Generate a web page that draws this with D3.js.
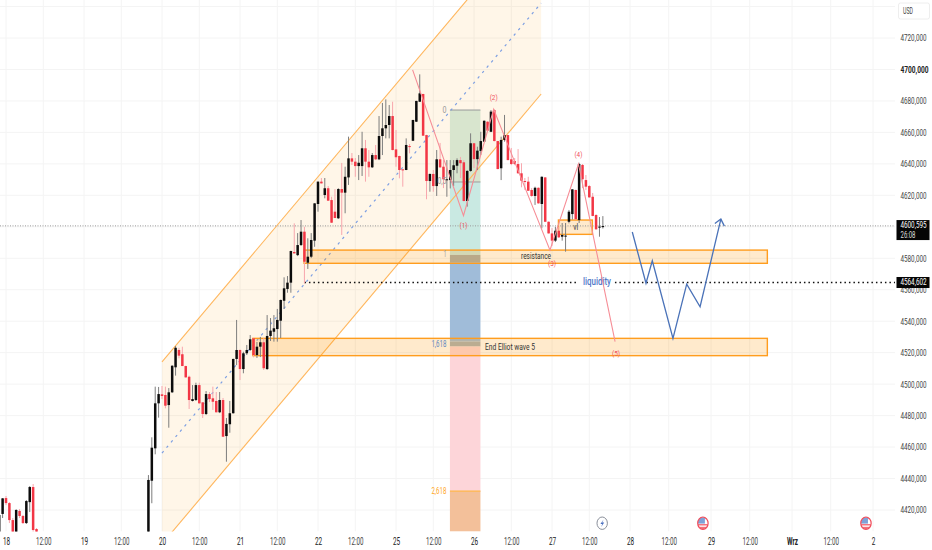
<!DOCTYPE html>
<html><head><meta charset="utf-8">
<script src="https://cdn.jsdelivr.net/npm/d3@7"></script>
<style>
html,body{margin:0;padding:0;background:#fff;overflow:hidden}
svg{display:block;font-family:Roboto,sans-serif}
</style></head><body><svg id="c" width="932" height="550"></svg>
<script>
// ---- data -------------------------------------------------------------
const opens=[4404.1,4417.5,4427.6,4424.4,4413.6,4405.8,4419.4,4416.2,4411.7,4425,4434.6,4407.9,
4404.1,4438.6,4459.2,4487.8,4493.5,4493.1,4486.7,4494.8,4510.7,4521.7,
4519,4511.5,4504.7,4489.3,4489.9,4499.4,4488.4,4481,4493.7,4491,
4489.3,4482.1,4489.9,4467,4474.5,4481.5,4516,4521.7,4509.6,4519.6,
4521.7,4529.1,4518.5,4523.8,4526.6,4509.6,4530.6,4533.3,4535,4540.3,
4553,4560.5,4564.5,4584,4582,4588.4,4596.9,4577.2,4581,4591.2,
4614.5,4628.7,4620.2,4624.5,4617,4609.6,4605.4,4624,4621.7,4631.4,
4643.5,4641.4,4638.6,4638.6,4649.9,4641.4,4637.8,4645.6,4642.9,4657.7,
4662.6,4664.7,4670.4,4649.2,4645,4636.5,4636.1,4651.3,4654.7,4666.8,
4679.5,4684.4,4658.3,4629.1,4633.6,4625.9,4642.9,4638.2,4629.7,4629.7,
4636.1,4638.8,4642.4,4641,4616.4,4635.5,4653.1,4643,4648.2,4654.1,
4666.8,4660.4,4674.2,4654.5,4637.2,4655.2,4658.3,4642.9,4641.8,4639.9,
4634,4629.1,4628.7,4623.4,4619.6,4624.8,4614.5,4631.4,4603.2,4595.8,
4591.2,4597.5,4593.7,4593.8,4603.2,4608.1,4623.4,4604.3,4639.3,4629.7,
4625.9,4619.1,4607.5,4599.5,4599.8];
const closes=[4416.8,4427.4,4424.4,4413.6,4405.8,4420,4416.2,4411.7,4425.7,4434.6,4407.3,4405.4,
4439.1,4459.6,4487.8,4493.7,4492.5,4486.3,4494.8,4511.7,4523.1,4518.1,
4511.5,4504.3,4489.9,4490.5,4499.4,4487.8,4481,4493.7,4490.5,4488.8,
4482.1,4489.9,4466.6,4474.7,4481.5,4516,4521.7,4509.6,4519.6,4521.7,
4528.5,4518.5,4523.8,4526.6,4510.1,4530.6,4534,4535.5,4540.8,4553.5,
4560.9,4564.5,4584.6,4583.1,4588.4,4596.9,4577.8,4581,4591.6,4614.9,
4628.7,4627.6,4624.5,4616.6,4602.6,4605.6,4624,4621.7,4631.8,4643.5,
4641.4,4638.6,4640.7,4649.9,4641.4,4637.8,4645.6,4642.9,4657.7,4662.6,
4664.7,4670.4,4648.8,4644.2,4636.1,4636.1,4652,4650.7,4667.9,4680,
4684.8,4657.9,4629.1,4633.6,4625.9,4642.9,4637.8,4630.2,4630.2,4636.1,
4639.1,4642.4,4640.4,4616.4,4635.5,4653.1,4643,4648.4,4654.5,4667.4,
4661.1,4673.2,4654.5,4636.7,4655.2,4658.3,4642.4,4639.9,4639.9,4634,
4629.3,4628.7,4622.9,4619.6,4624.8,4614.9,4631.8,4603.2,4595.8,4591.2,
4597.5,4593.3,4594.8,4594.4,4609.6,4623.8,4604.8,4639.9,4630.2,4625.5,
4618.7,4606.9,4598.4,4600.1,4600.5];
const highs=[4418.7,4427.6,4428.9,4425,4414.9,4420.5,4420.6,4416.8,4426.3,4435.2,4436.5,4408.5,
4442.2,4466.2,4498.4,4498.2,4498.8,4498.4,4497.5,4512,4524.2,4523.1,
4523.8,4511.7,4505.4,4499.4,4500.9,4500.9,4488.6,4495.6,4495,4498.4,
4495,4495,4491.2,4478.5,4489.3,4516.2,4540.8,4522,4520.6,4524.9,
4531.2,4529.3,4526.8,4530,4529.3,4543.9,4542,4543.9,4547.8,4553.7,
4567.9,4568.7,4584.8,4602.2,4596,4604.3,4600,4592.7,4596,4615,
4628.8,4631,4631,4625.9,4619.1,4624,4624.5,4640.6,4638.2,4657.3,
4646.9,4643.7,4645.6,4660.4,4655.2,4648.8,4646.9,4652,4670.4,4678.7,
4681,4677.4,4679.5,4661.5,4645.2,4636.7,4656.2,4652.6,4668,4680.1,
4696.9,4684.6,4658.5,4633.8,4636.1,4648.8,4653.3,4642.4,4642.4,4642.4,
4642.4,4643.5,4644.4,4642.4,4636,4659.4,4653.3,4650.9,4660.4,4667.6,
4667,4674.2,4674.7,4654.6,4657.3,4671.1,4658.5,4650.1,4643.7,4649.4,
4640.4,4631,4631.8,4624.6,4625.5,4625,4632,4631.6,4603.4,4599.2,
4600,4599.9,4602.4,4602.4,4610.7,4624,4623.6,4640.7,4639.9,4632.9,
4626.5,4621.5,4608,4606.2,4606.8];
const lows=[4400.9,4414.9,4423.1,4411.7,4404,4404,4414.9,4411.1,4411.1,4418.7,4405.4,4404.7,
4400.9,4424.3,4455.4,4478.7,4490.5,4484.6,4472.3,4494.4,4505.4,4516.4,
4511.5,4504.1,4484.2,4489,4489.3,4487.6,4478.5,4480.4,4488.6,4483.6,
4482,4481.6,4466.4,4450.7,4469.1,4481.3,4512.1,4502.6,4506.9,4518.5,
4521,4517,4516.6,4517.2,4509,4509,4527.4,4527,4527,4529.3,
4547.8,4558.1,4558.1,4583,4581.4,4587.8,4564,4573.2,4580.1,4587.3,
4609.6,4627.5,4618.1,4616.5,4602.5,4605.5,4605,4594.8,4608.6,4626.6,
4639.3,4631.8,4629.7,4632.3,4628.7,4631.8,4637.4,4642.4,4642.4,4645.6,
4656.2,4656.2,4648.6,4638.2,4630.8,4625.5,4636,4646.7,4654.5,4666.6,
4679.3,4657.8,4617.5,4622.3,4622.3,4619.6,4637.4,4624.6,4619.1,4624.4,
4625.9,4634,4631,4616,4612.8,4635,4637.4,4636.1,4645.6,4654,
4661,4660.2,4654.3,4636.6,4629.7,4654.1,4642.3,4639.2,4639.2,4633.9,
4625.1,4623.4,4622.8,4619.1,4613.9,4614.7,4599,4603,4595.7,4587.8,
4590.3,4592.9,4591.2,4584.2,4602.2,4604.6,4604.6,4602.4,4624.6,4623.4,
4618.5,4606.7,4598.2,4593.7,4598.9];
const leftCount=12, leftFirstBar=-2, mainFirstBar=42;

const priceTicks=d3.range(4420,4741,20);
const priceLabelTicks=[4420,4440,4460,4480,4500,4520,4540,4560,4580,4620,4640,4660,4680,4700,4720];
const timeTickBars=[0,11,23,34,46,57,69,80,92,103,115,126,138,149,161,172,184,195,207,218,230,241,253];
const timeTickLabels=["18","12:00","19","12:00","20","12:00","21","12:00","22","12:00","25","12:00","26","12:00","27","12:00","28","12:00","29","12:00","Wrz","12:00","2"];

const lastPrice=4600.595, countdown="26:08", liquidityPrice=4564.602, liquidityStartBar=88;
// channel: [bar, upper, middle, lower]
const channelBars=[46,157.8], channelUpper=[4514.1,4800.1], channelMiddle=[4456.2,4742.2], channelLower=[4398.4,4684.4];
// fib tool
const fibBars=[130.9,139.9];
const fibBandTop=[4674.2,4628.5,4582.1,4577.6,4527,4523.9,4432];
const fibBandBottom=[4628.5,4582.1,4577.6,4527,4523.9,4432,4406.3];
const fibBandColors=["#d8e5ce","#c9e9e2","#a9aeaa","#a0bcd9","#aab2b6","#fdd5d9","#f3c09a"];
const fibLabels=["0","0,5","1","1,618","2,618"];
const fibLabelPrices=[4674.2,4628.5,4582.1,4524.9,4432];
const fibLabelColors=["#999","#999","#999","#5d88c0","#ffa726"];
// zones: left bar, right bar, top price, bottom price
const zoneLeft=[87.9,72.8,162.9], zoneRight=[223,223,172.9], zoneTop=[4585.2,4529.1,4604.3], zoneBottom=[4576.8,4518.1,4595.2];
// wave drawn in pink and projected path in blue
const waveBars=[119.9,134.9,143.8,160.4,168.8,179.6], wavePrices=[4699.7,4607.1,4674.7,4585.2,4639.9,4527];
const waveLabels=["(1)","(2)","(3)","(4)","(5)"];
const waveLabelBars=[134.9,143.8,161,168.8,179.9], waveLabelPrices=[4600.5,4682,4576.5,4645.5,4519];
const pathBars=[184.65,188.54,190.33,196.2,200.1,203.9,209.8], pathPrices=[4596.7,4564.1,4578.4,4529.1,4563.6,4549.2,4604.9];
const eventBars=[175.8,204.7,251], eventKinds=["bolt","flag","flag"];

// ---- scales ------------------------------------------------------------
const x=d3.scaleLinear().domain([0,184,253]).range([6,630,873]);
const y=d3.scaleLinear().domain([4420,4720]).range([510,38]);
const paneRight=895, paneBottom=531.5;
const narrow="'Liberation Sans Narrow',Roboto,sans-serif";
const svg=d3.select("#c");
const defs=svg.append("defs");
defs.append("clipPath").attr("id","pane").append("rect").attr("x",0).attr("y",0).attr("width",paneRight).attr("height",paneBottom);
svg.append("rect").attr("width",932).attr("height",550).attr("fill","#fff");
const pane=svg.append("g").attr("clip-path","url(#pane)");
const squeeze=(t,w)=>t.attr("textLength",w).attr("lengthAdjust","spacingAndGlyphs");

// grid
pane.append("g").selectAll("line").data(timeTickBars).join("line")
 .attr("x1",d=>x(d)).attr("x2",d=>x(d)).attr("y1",0).attr("y2",paneBottom).attr("stroke","#f4f4f4");
pane.append("g").selectAll("line").data(priceTicks).join("line")
 .attr("x1",0).attr("x2",paneRight).attr("y1",d=>y(d)).attr("y2",d=>y(d)).attr("stroke","#f4f4f4");

// channel fill
const ch=[[channelBars[0],channelUpper[0]],[channelBars[1],channelUpper[1]],[channelBars[1],channelLower[1]],[channelBars[0],channelLower[0]]];
pane.append("path").attr("d",d3.line(d=>x(d[0]),d=>y(d[1]))(ch)+"Z").attr("fill","rgba(255,152,0,0.09)");

// fib
pane.append("g").selectAll("rect").data(fibBandTop).join("rect")
 .attr("x",x(fibBars[0])).attr("width",x(fibBars[1])-x(fibBars[0]))
 .attr("y",d=>y(d)).attr("height",(d,i)=>y(fibBandBottom[i])-y(d)).attr("fill",(d,i)=>fibBandColors[i]);
pane.append("g").selectAll("line").data(fibLabelPrices.slice(0,2)).join("line")
 .attr("x1",x(fibBars[0])).attr("x2",x(fibBars[1])).attr("y1",d=>y(d)).attr("y2",d=>y(d)).attr("stroke","#a9aca8").attr("stroke-width",1.3);
pane.append("line").attr("x1",x(fibBars[0])).attr("x2",x(fibBars[1])).attr("y1",y(4432)).attr("y2",y(4432)).attr("stroke","#ffb74d").attr("stroke-width",1.3);

// channel lines
const lineGen=d3.line(d=>x(d[0]),d=>y(d[1]));
pane.append("path").attr("d",lineGen([[channelBars[0],channelUpper[0]],[channelBars[1],channelUpper[1]]])).attr("stroke","#ffb65c").attr("fill","none").attr("stroke-width",1.1);
pane.append("path").attr("d",lineGen([[channelBars[0],channelLower[0]],[channelBars[1],channelLower[1]]])).attr("stroke","#ffb65c").attr("fill","none").attr("stroke-width",1.1);
pane.append("path").attr("d",lineGen([[channelBars[0],channelMiddle[0]],[channelBars[1],channelMiddle[1]]])).attr("stroke","#7d9fe2").attr("fill","none").attr("stroke-width",1.2).attr("stroke-dasharray","2.5 4.5");

// zones
pane.append("g").selectAll("rect").data(zoneLeft).join("rect")
 .attr("x",d=>x(d)).attr("width",(d,i)=>x(zoneRight[i])-x(d))
 .attr("y",(d,i)=>y(zoneTop[i])).attr("height",(d,i)=>y(zoneBottom[i])-y(zoneTop[i]))
 .attr("fill","rgba(255,152,0,0.2)").attr("stroke","#ff9d1e").attr("stroke-width",1.4);

// last price line
pane.append("line").attr("x1",0).attr("x2",paneRight).attr("y1",y(lastPrice)).attr("y2",y(lastPrice)).attr("stroke","#9a9a9a").attr("stroke-dasharray","1 1.5");
// liquidity line
pane.append("line").attr("x1",x(liquidityStartBar)).attr("x2",paneRight).attr("y1",y(liquidityPrice)).attr("y2",y(liquidityPrice)).attr("stroke","#111").attr("stroke-width",1.5).attr("stroke-dasharray","1.5 3");
pane.append("rect").attr("x",578).attr("width",35).attr("y",y(liquidityPrice)-5).attr("height",10).attr("fill","#fff");

// candles
const bars=opens.map((o,i)=>({bar:i<leftCount?leftFirstBar+i:mainFirstBar+i-leftCount,o,c:closes[i],h:highs[i],l:lows[i]}));
const upCol="#0c0c0c",downCol="#f23645",upWick="#7d7d7d",downWick="#f8a6ad",bw=2.5;
const cg=pane.append("g");
cg.selectAll("line").data(bars).join("line")
 .attr("x1",d=>x(d.bar)).attr("x2",d=>x(d.bar)).attr("y1",d=>y(d.h)).attr("y2",d=>y(d.l))
 .attr("stroke",d=>d.c>=d.o?upWick:downWick).attr("stroke-width",1);
cg.selectAll("rect").data(bars).join("rect")
 .attr("x",d=>x(d.bar)-bw/2).attr("width",bw)
 .attr("y",d=>y(Math.max(d.o,d.c))).attr("height",d=>Math.max(1,Math.abs(y(d.o)-y(d.c))))
 .attr("fill",d=>d.c>=d.o?upCol:downCol);

// labels in pane
function lbl(tx,ty,s,col,size,anchor,w,len){const t=pane.append("text").attr("x",tx).attr("y",ty).attr("dominant-baseline","middle").attr("text-anchor",anchor||"middle").attr("font-size",size).attr("fill",col).attr("font-weight",w||400).text(s);if(len)squeeze(t,len);return t;}
const fibLens=[4,9,3,15,15];
fibLabels.forEach((s,i)=>lbl(x(fibBars[0])-3.5,y(fibLabelPrices[i]),s,fibLabelColors[i],9.5,"end",400,fibLens[i]));
lbl(536,256.5,"resistance","#333",9.5,"middle",400,30);
lbl(485,347,"End Elliot wave 5","#333",9.5,"start",400,50);
lbl(597,282.7,"liquidity","#4f77c8",10.5,"middle",500,28);
lbl(575.8,228,"vl","#444",9,"middle",400,5);

// wave
pane.append("path").attr("d",lineGen(waveBars.map((b,i)=>[b,wavePrices[i]]))).attr("fill","none").attr("stroke","#f68d96").attr("stroke-width",1.1);
waveLabels.forEach((s,i)=>lbl(x(waveLabelBars[i]),y(waveLabelPrices[i]),s,"#f0505c",8,"middle",400,8));
// blue path with arrow
pane.append("path").attr("d",lineGen(pathBars.map((b,i)=>[b,pathPrices[i]]))).attr("fill","none").attr("stroke","#4a72b8").attr("stroke-width",1.3);
const tip=[x(pathBars[6]),y(pathPrices[6])];
pane.append("path").attr("d",`M${tip[0]-6},${tip[1]+4.5}L${tip[0]},${tip[1]}L${tip[0]+3.5},${tip[1]+7}`).attr("fill","none").attr("stroke","#4a72b8").attr("stroke-width",1.3);

// event icons
const iconY=523.2;
eventBars.forEach((b,i)=>{
 const g=svg.append("g").attr("transform",`translate(${x(b)},${iconY})`);
 if(eventKinds[i]==="bolt"){
  g.append("ellipse").attr("rx",5.2).attr("ry",6.2).attr("fill","#fff").attr("stroke","#8a8f9a").attr("stroke-width",1);
  g.append("path").attr("d","M1.4,-3.8L-1.8,0.7H0.1L-1,3.8L2,-0.8H0Z").attr("fill","#4a6fc0");
 } else {
  const id="fc"+i;
  defs.append("clipPath").attr("id",id).append("ellipse").attr("rx",5).attr("ry",6);
  const f=g.append("g").attr("clip-path",`url(#${id})`);
  f.append("rect").attr("x",-5).attr("y",-6).attr("width",10).attr("height",12).attr("fill","#fff");
  f.append("rect").attr("x",-5).attr("y",0.8).attr("width",10).attr("height",1.5).attr("fill","#f5737d");
  f.append("rect").attr("x",-5).attr("y",3.6).attr("width",10).attr("height",2.4).attr("fill","#f5737d");
  f.append("rect").attr("x",-5).attr("y",-6).attr("width",10).attr("height",2).attr("fill","#f5a0a8");
  f.append("rect").attr("x",-5).attr("y",-6).attr("width",7).attr("height",6.4).attr("fill","#7fa2d8");
  g.append("ellipse").attr("rx",5.2).attr("ry",6.2).attr("fill","none").attr("stroke","#f04a58").attr("stroke-width",1.2);
 }
});

// axes
const xAxis=d3.axisBottom(x).tickValues(timeTickBars).tickSize(0).tickFormat((d,i)=>timeTickLabels[i]);
const gx=svg.append("g").attr("transform","translate(0,536)").call(xAxis);
gx.select(".domain").remove();
gx.selectAll("text").attr("font-size",10).attr("font-family","Roboto,sans-serif").attr("dy","0.55em")
 .attr("fill",(d,i)=>timeTickLabels[i]==="12:00"?"#444":"#222").attr("font-weight",(d,i)=>timeTickLabels[i]==="Wrz"?700:400)
 .each(function(d,i){const s=timeTickLabels[i];squeeze(d3.select(this),s==="12:00"?15.5:s==="Wrz"?11:s.length*3.6);});
const yAxis=d3.axisRight(y).tickValues(priceLabelTicks).tickSize(0).tickFormat(v=>d3.format(".3f")(v).replace(".",","));
const gy=svg.append("g").attr("transform","translate(900.5,0)").call(yAxis);
gy.select(".domain").remove();
gy.selectAll("text").attr("x",0).attr("text-anchor","start").attr("font-size",9).attr("font-family",narrow).attr("fill",v=>v===4700?"#222":"#444").attr("font-weight",v=>v===4700?700:400);
gy.selectAll("text").each(function(v){squeeze(d3.select(this),v===4700?28:26);});

// right boxes
svg.append("rect").attr("x",898.5).attr("y",3).attr("width",31).attr("height",16).attr("rx",2).attr("fill","#fff").attr("stroke","#eeeeee");
squeeze(svg.append("text").attr("x",903).attr("y",11.5).attr("dominant-baseline","middle").attr("font-size",9.5).attr("fill","#444").text("USD"),10);
svg.append("rect").attr("x",896.5).attr("y",y(lastPrice)-5.8).attr("width",33).attr("height",20).attr("fill","#050505");
squeeze(svg.append("text").attr("x",900.5).attr("y",y(lastPrice)).attr("dominant-baseline","middle").attr("font-size",9).attr("font-family",narrow).attr("fill","#fff").text(d3.format(".3f")(lastPrice).replace(".",",")),26);
squeeze(svg.append("text").attr("x",900.5).attr("y",y(lastPrice)+9.4).attr("dominant-baseline","middle").attr("font-size",8.5).attr("font-family",narrow).attr("fill","#ddd").text(countdown),15);
svg.append("rect").attr("x",896.5).attr("y",y(liquidityPrice)-5.5).attr("width",33).attr("height",11).attr("fill","#050505");
squeeze(svg.append("text").attr("x",900.5).attr("y",y(liquidityPrice)).attr("dominant-baseline","middle").attr("font-size",9).attr("font-family",narrow).attr("fill","#fff").text(d3.format(".3f")(liquidityPrice).replace(".",",")),26);
</script></body></html>
